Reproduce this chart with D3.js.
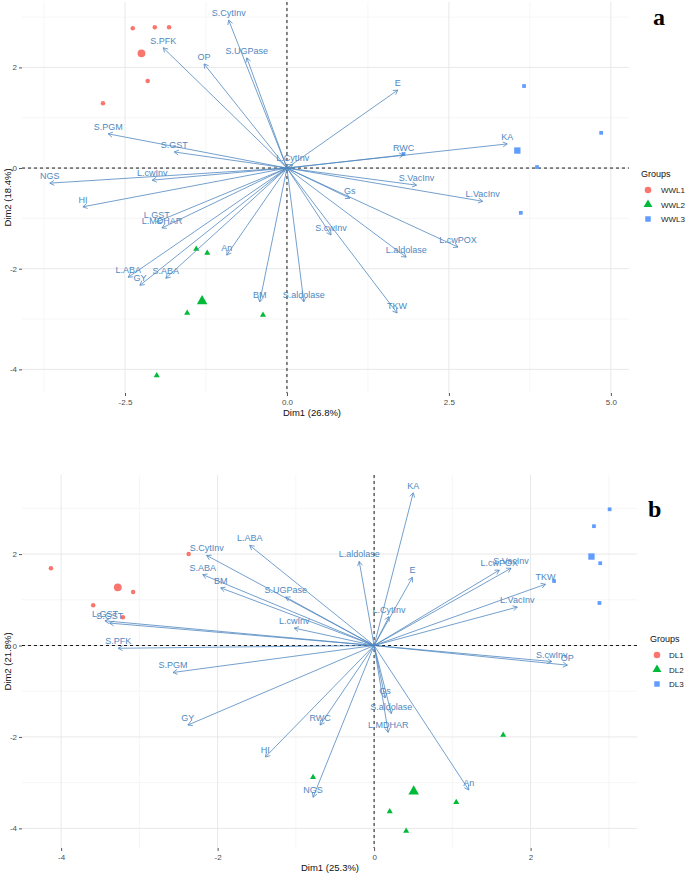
<!DOCTYPE html>
<html><head><meta charset="utf-8">
<script src="https://cdn.jsdelivr.net/npm/d3@7"></script>
<style>body{margin:0;background:#fff}svg{display:block}</style>
</head><body>
<svg id="c" width="685" height="874"></svg>
<script>
// ---------- Panel a (well-watered) ----------
const varsA = ["S.CytInv","S.PFK","OP","S.UGPase","S.PGM","S.GST","L.CytInv","L.cwInv","NGS","HI","L.GST","L.MDHAR","An","L.ABA","GY","S.ABA","BM","S.aldolase","S.cwInv","Gs","S.VacInv","L.VacInv","L.cwPOX","L.aldolase","TKW","E","RWC","KA"];
const varXA = [-0.90,-1.91,-1.28,-0.62,-2.76,-1.74,0.09,-2.08,-3.66,-3.15,-2.01,-1.93,-0.93,-2.45,-2.27,-1.87,-0.42,0.26,0.68,0.97,2.00,3.02,2.64,1.84,1.70,1.71,1.80,3.40];
const varYA = [2.94,2.39,2.07,2.19,0.68,0.32,0.07,-0.24,-0.30,-0.77,-1.07,-1.19,-1.73,-2.17,-2.33,-2.19,-2.66,-2.66,-1.33,-0.60,-0.34,-0.66,-1.57,-1.77,-2.88,1.55,0.26,0.48];
const groupsA = ["WWL1","WWL2","WWL3"];
const indXA = [[-2.38,-2.04,-1.82,-2.15,-2.84],[-1.40,-1.23,-1.54,-0.37,-2.01],[3.66,4.85,3.86,3.61,1.80]];
const indYA = [[2.78,2.80,2.80,1.73,1.29],[-1.61,-1.69,-2.88,-2.92,-4.12],[1.63,0.70,0.02,-0.89,0.28]];
const xTicksA = [-2.5,0,2.5,5], xTickLabelsA = ["-2.5","0.0","2.5","5.0"];
const yTicksA = [-4,-2,0,2], yTickLabelsA = ["-4","-2","0","2"];
const xMinorA = [-3.75,-1.25,1.25,3.75], yMinorA = [-3,-1,1,3];

// ---------- Panel b (drought) ----------
const varsB = ["KA","L.ABA","S.CytInv","S.ABA","BM","L.aldolase","S.UGPase","E","L.cwPOX","S.VacInv","TKW","L.VacInv","L.CytInv","L.cwInv","L.GST","S.GST","S.PFK","S.cwInv","OP","S.PGM","GY","RWC","HI","NGS","Gs","S.aldolase","L.MDHAR","An"];
const varXB = [0.50,-1.59,-2.14,-2.19,-1.96,-0.19,-1.13,0.49,1.60,1.75,2.19,1.83,0.19,-1.02,-3.44,-3.38,-3.27,2.27,2.47,-2.57,-2.38,-0.69,-1.39,-0.78,0.14,0.22,0.18,1.21];
const varYB = [3.34,2.19,1.97,1.55,1.26,1.84,1.06,1.49,1.65,1.69,1.34,0.84,0.63,0.38,0.54,0.49,-0.06,-0.35,-0.43,-0.59,-1.74,-1.74,-2.44,-3.32,-1.15,-1.49,-1.90,-3.16];
const groupsB = ["DL1","DL2","DL3"];
const indXB = [[-4.13,-3.08,-3.59,-3.21,-2.37],[1.65,-0.78,1.05,0.20,0.41],[3.01,2.81,2.89,2.30,2.88]];
const indYB = [[1.69,1.17,0.88,0.62,2.00],[-1.96,-2.88,-3.43,-3.63,-4.06],[2.98,2.61,1.80,1.41,0.93]];
const xTicksB = [-4,-2,0,2], xTickLabelsB = ["-4","-2","0","2"];
const yTicksB = [-4,-2,0,2], yTickLabelsB = ["-4","-2","0","2"];
const xMinorB = [-3,-1,1,3], yMinorB = [-3,-1,1,3];

const groupColors = ["#F8766D","#00BA38","#619CFF"];
const varColor = "#5088c0";

const svg = d3.select("#c");

function panel(cfg) {
  const x = d3.scaleLinear().domain(cfg.xdom).range([cfg.left, cfg.right]);
  const y = d3.scaleLinear().domain(cfg.ydom).range([cfg.bottom, cfg.top]);
  const g = svg.append("g");
  // grid
  g.selectAll(".vmin").data(cfg.xMinor).join("line")
    .attr("x1", d=>x(d)).attr("x2", d=>x(d)).attr("y1", cfg.top).attr("y2", cfg.bottom)
    .attr("stroke", "#f0f0f0").attr("stroke-width", 0.6);
  g.selectAll(".hmin").data(cfg.yMinor).join("line")
    .attr("y1", d=>y(d)).attr("y2", d=>y(d)).attr("x1", cfg.left).attr("x2", cfg.right)
    .attr("stroke", "#f0f0f0").attr("stroke-width", 0.6);
  g.selectAll(".vmaj").data(cfg.xTicks).join("line")
    .attr("x1", d=>x(d)).attr("x2", d=>x(d)).attr("y1", cfg.top).attr("y2", cfg.bottom)
    .attr("stroke", "#e8e8e8").attr("stroke-width", 1);
  g.selectAll(".hmaj").data(cfg.yTicks).join("line")
    .attr("y1", d=>y(d)).attr("y2", d=>y(d)).attr("x1", cfg.left).attr("x2", cfg.right)
    .attr("stroke", "#e8e8e8").attr("stroke-width", 1);
  // axes
  const xa = d3.axisBottom(x).tickValues(cfg.xTicks).tickSize(3).tickPadding(3)
    .tickFormat((d,i)=>cfg.xTickLabels[i]);
  const ya = d3.axisLeft(y).tickValues(cfg.yTicks).tickSize(3).tickPadding(2)
    .tickFormat((d,i)=>cfg.yTickLabels[i]);
  const gx = g.append("g").attr("transform", `translate(0,${cfg.bottom})`).call(xa);
  const gy = g.append("g").attr("transform", `translate(${cfg.left},0)`).call(ya);
  [gx, gy].forEach(a => {
    a.select(".domain").remove();
    a.selectAll("line").attr("stroke", "#555");
    a.selectAll("text").attr("fill", "#4d4d4d").style("font-family", "Liberation Sans, Arial, sans-serif").style("font-size", "8px");
  });
  // dashed zero lines
  g.append("line").attr("x1", cfg.left).attr("x2", cfg.right).attr("y1", y(0)).attr("y2", y(0))
    .attr("stroke", "#000").attr("stroke-dasharray", "3,3").attr("stroke-width", 0.9);
  g.append("line").attr("x1", x(0)).attr("x2", x(0)).attr("y1", cfg.top).attr("y2", cfg.bottom)
    .attr("stroke", "#000").attr("stroke-dasharray", "3,3").attr("stroke-width", 0.9);
  // axis titles
  g.append("text").attr("x", cfg.xTitleX).attr("y", cfg.xTitleY).attr("text-anchor", "middle")
    .style("font-family", "Liberation Sans, Arial, sans-serif").style("font-size", "9.5px").attr("fill", "#111").text(cfg.xTitle);
  g.append("text").attr("transform", `translate(${cfg.yTitleX},${(cfg.top+cfg.bottom)/2}) rotate(-90)`).attr("text-anchor", "middle")
    .style("font-family", "Liberation Sans, Arial, sans-serif").style("font-size", "9.5px").attr("fill", "#111").text(cfg.yTitle);

  // individuals
  const sym = [d3.symbolCircle, d3.symbolTriangle, d3.symbolSquare];
  cfg.indX.forEach((xs, gi) => {
    const pts = xs.map((v,i)=>({x:v, y:cfg.indY[gi][i]}));
    g.selectAll(null).data(pts).join("path")
      .attr("transform", d=>`translate(${x(d.x)},${y(d.y)})`)
      .attr("d", d3.symbol().type(sym[gi]).size(gi===2?14:16))
      .attr("fill", groupColors[gi]);
    const mx = d3.mean(xs), my = d3.mean(cfg.indY[gi]);
    g.append("path").attr("transform", `translate(${x(mx)},${y(my)})`)
      .attr("d", d3.symbol().type(sym[gi]).size(gi===2?40:48)).attr("fill", groupColors[gi]);
  });

  // variable arrows
  const vars = cfg.vars.map((n,i)=>({n, x:cfg.varX[i], y:cfg.varY[i]}));
  const ag = g.append("g").attr("fill", "none").attr("stroke", varColor).attr("stroke-width", 0.8);
  vars.forEach(v => {
    const x0 = x(0), y0 = y(0), x1 = x(v.x), y1 = y(v.y);
    const ang = Math.atan2(y1-y0, x1-x0), L = 5, a = Math.PI/6;
    const p = d3.path();
    p.moveTo(x0, y0); p.lineTo(x1, y1);
    p.moveTo(x1 - L*Math.cos(ang-a), y1 - L*Math.sin(ang-a)); p.lineTo(x1, y1);
    p.lineTo(x1 - L*Math.cos(ang+a), y1 - L*Math.sin(ang+a));
    ag.append("path").attr("d", p.toString());
  });
  g.selectAll(null).data(vars).join("text")
    .attr("x", d=>x(d.x)).attr("y", d=>y(d.y)-4).attr("text-anchor", "middle")
    .style("font-family", "Liberation Sans, Arial, sans-serif").style("font-size", "9px")
    .attr("fill", varColor).text(d=>d.n);

  // legend
  const lg = g.append("g");
  lg.append("text").attr("x", cfg.legX).attr("y", cfg.legY).style("font-family", "Liberation Sans, Arial, sans-serif")
    .style("font-size", "9px").attr("fill", "#111").text("Groups");
  cfg.groups.forEach((name, gi) => {
    const yy = cfg.legY + 13 + gi*14.5;
    lg.append("path").attr("transform", `translate(${cfg.legX+7},${yy})`)
      .attr("d", d3.symbol().type(sym[gi]).size(gi===2?30:34)).attr("fill", groupColors[gi]);
    lg.append("text").attr("x", cfg.legX+cfg.legTextDx).attr("y", yy+3).style("font-family", "Liberation Sans, Arial, sans-serif")
      .style("font-size", "8px").attr("fill", "#222").text(name);
  });
  // panel letter
  g.append("text").attr("x", cfg.letterX).attr("y", cfg.letterY).style("font-family", "Liberation Serif, Times New Roman, serif")
    .style("font-size", "24px").style("font-weight", "bold").attr("fill", "#000").text(cfg.letter);
}

panel({left:22, right:629, top:2, bottom:393, xdom:[-4.09,5.28], ydom:[-4.47,3.3],
  xTicks:xTicksA, xTickLabels:xTickLabelsA, yTicks:yTicksA, yTickLabels:yTickLabelsA, xMinor:xMinorA, yMinor:yMinorA,
  xTitle:"Dim1 (26.8%)", yTitle:"Dim2 (18.4%)", xTitleX:312, xTitleY:416, yTitleX:11,
  vars:varsA, varX:varXA, varY:varYA, indX:indXA, indY:indYA, groups:groupsA,
  legX:641, legY:177, legTextDx:20, letter:"a", letterX:653, letterY:25});
panel({left:22, right:637, top:475, bottom:848, xdom:[-4.5,3.36], ydom:[-4.43,3.73],
  xTicks:xTicksB, xTickLabels:xTickLabelsB, yTicks:yTicksB, yTickLabels:yTickLabelsB, xMinor:xMinorB, yMinor:yMinorB,
  xTitle:"Dim1 (25.3%)", yTitle:"Dim2 (21.8%)", xTitleX:330, xTitleY:871, yTitleX:11,
  vars:varsB, varX:varXB, varY:varYB, indX:indXB, indY:indYB, groups:groupsB,
  legX:650, legY:642, legTextDx:19, letter:"b", letterX:648, letterY:517});
</script>
</body></html>
